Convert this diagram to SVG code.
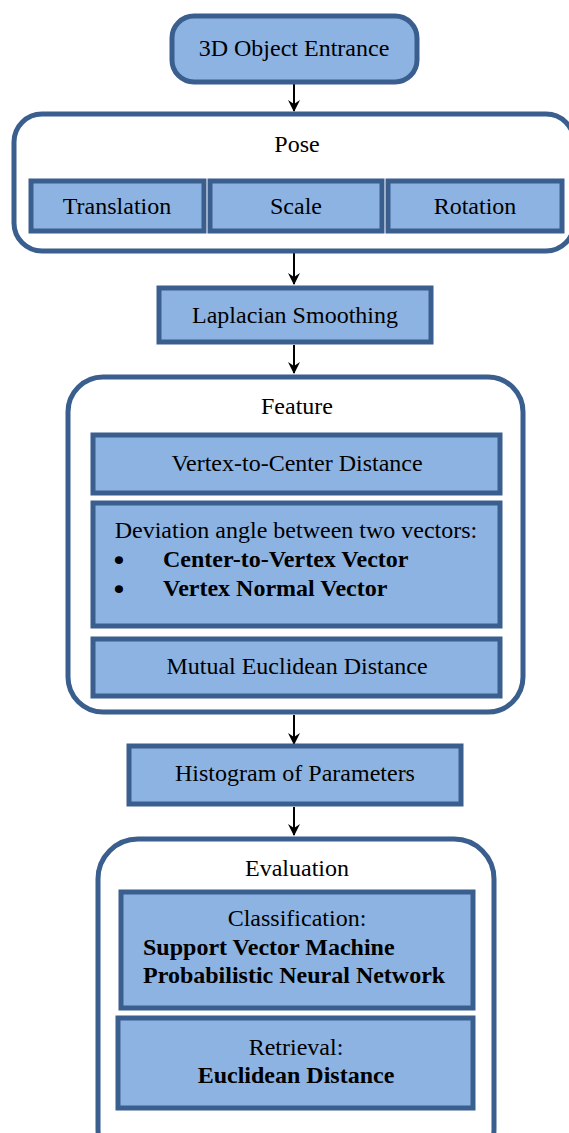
<svg xmlns="http://www.w3.org/2000/svg" width="569" height="1133" viewBox="0 0 569 1133">
<defs>
<style>
.box{fill:#8DB3E2;stroke:#3A5F8F;stroke-width:5}
.cont{fill:#FFFFFF;stroke:#3A5F8F;stroke-width:5}
.c{text-anchor:middle}
.b{font-weight:bold}
.bul{font-size:24px;text-anchor:middle;font-weight:bold;stroke:#000;stroke-width:1.6}
.conn{stroke:#000;stroke-width:2;fill:none}
</style>
<marker id="ah" viewBox="0 0 12 12" refX="11" refY="6" markerWidth="12" markerHeight="12" markerUnits="userSpaceOnUse" orient="auto">
<path d="M0,0 L12,6 L0,12 L4,6 Z" fill="#000"/>
</marker>
</defs>
<rect width="569" height="1133" fill="#FFFFFF"/>
<g id="connectors">
<line class="conn" x1="294" y1="82" x2="294" y2="111" marker-end="url(#ah)"/>
<line class="conn" x1="294" y1="252" x2="294" y2="284" marker-end="url(#ah)"/>
<line class="conn" x1="294" y1="345" x2="294" y2="373" marker-end="url(#ah)"/>
<line class="conn" x1="294" y1="715" x2="294" y2="744" marker-end="url(#ah)"/>
<line class="conn" x1="294" y1="807" x2="294" y2="835" marker-end="url(#ah)"/>
</g>
<g font-family="Liberation Serif, DejaVu Serif, serif" font-size="24" fill="#000">
<g id="entrance">
<rect class="box" x="172" y="16" width="245" height="66" rx="22"/>
<text class="c" x="294" y="56">3D Object Entrance</text>
</g>
<g id="pose">
<rect class="cont" x="14" y="114" width="560" height="137" rx="28"/>
<text class="c" x="297" y="152">Pose</text>
</g>
<g id="translation">
<rect class="box" x="31" y="181" width="173" height="50"/>
<text class="c" x="117" y="214">Translation</text>
</g>
<g id="scale">
<rect class="box" x="210" y="181" width="172" height="50"/>
<text class="c" x="296" y="214">Scale</text>
</g>
<g id="rotation">
<rect class="box" x="388" y="181" width="174" height="50"/>
<text class="c" x="475" y="214">Rotation</text>
</g>
<g id="laplacian">
<rect class="box" x="159" y="288" width="272" height="54"/>
<text class="c" x="295" y="323">Laplacian Smoothing</text>
</g>
<g id="feature">
<rect class="cont" x="68" y="377" width="455" height="335" rx="35"/>
<text class="c" x="297" y="414">Feature</text>
</g>
<g id="vertex-center">
<rect class="box" x="93" y="435" width="407" height="58"/>
<text class="c" x="297" y="471">Vertex-to-Center Distance</text>
</g>
<g id="deviation">
<rect class="box" x="93" y="503" width="407" height="123"/>
<text class="c" x="296" y="538">Deviation angle between two vectors:</text>
<text class="bul" x="119" y="568">•</text>
<text class="b" x="163" y="567">Center-to-Vertex Vector</text>
<text class="bul" x="119" y="597">•</text>
<text class="b" x="163" y="596">Vertex Normal Vector</text>
</g>
<g id="mutual">
<rect class="box" x="93" y="639" width="407" height="57"/>
<text class="c" x="297" y="674">Mutual Euclidean Distance</text>
</g>
<g id="histogram">
<rect class="box" x="129" y="746" width="332" height="58"/>
<text class="c" x="295" y="781">Histogram of Parameters</text>
</g>
<g id="evaluation">
<rect class="cont" x="98" y="839" width="396" height="330" rx="40"/>
<text class="c" x="297" y="876">Evaluation</text>
</g>
<g id="classification">
<rect class="box" x="121" y="892" width="352" height="116"/>
<text class="c" x="297" y="926">Classification:</text>
<text class="b" x="143" y="955">Support Vector Machine</text>
<text class="b" x="143" y="983">Probabilistic Neural Network</text>
</g>
<g id="retrieval">
<rect class="box" x="118" y="1018" width="355" height="90"/>
<text class="c" x="296" y="1055">Retrieval:</text>
<text class="c b" x="296" y="1083">Euclidean Distance</text>
</g>
</g>
</svg>
